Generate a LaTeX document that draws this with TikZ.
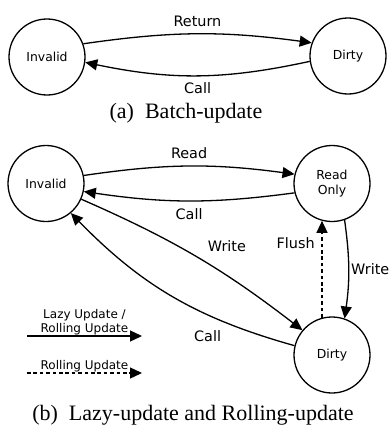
\documentclass[tikz,border=0pt]{standalone}
\usepackage{fontspec}
\setmainfont{Liberation Serif}
\setsansfont{DejaVu Sans}
\usetikzlibrary{arrows.meta}
\tikzset{
    statenode/.style={
        circle, draw, line width=0.65pt, minimum size=38pt, inner sep=0pt,
        align=center, font=\sffamily\fontsize{6.2}{7.5}\selectfont
    },
    ptr/.style={
        -{Triangle[length=6pt, width=5.5pt]}, line width=0.65pt
    },
    dashptr/.style={
        ptr, dash pattern=on 1.8pt off 1.4pt
    },
    labelptr/.style={
        font=\sffamily\fontsize{7.2}{8.6}\selectfont
    },
    legendtext/.style={
        font=\sffamily\fontsize{6}{7.2}\selectfont, align=center, inner sep=0pt
    },
    captiontext/.style={
        font=\fontsize{11}{13}\selectfont
    }
}

\begin{document}
\begin{tikzpicture}[x=0.5pt, y=0.5pt]
        \useasboundingbox (0,0) rectangle (389,-428);

        % ======================================
        % (a) BATCH-UPDATE
        % ======================================
        \node[statenode] (inv1) at (47,-57) {Invalid};
        \node[statenode] (dirty1) at (348,-56) {Dirty};

        \draw[ptr] (inv1.20) to[bend left=8] node[labelptr, above] {Return} (dirty1.160);
        \draw[ptr] (dirty1.188) to[bend left=12] node[labelptr, below] {Call} (inv1.-8);

        \node[captiontext] (capa) at (186,-113) {(a)\enspace Batch-update};

        % ======================================
        % (b) LAZY-UPDATE / ROLLING-UPDATE
        % ======================================
        \node[statenode] (inv2) at (46,-183.5) {Invalid};
        \node[statenode] (ro) at (332,-183.5) {Read\\Only};
        \node[statenode] (dirty2) at (332,-355) {Dirty};

        \draw[ptr] (inv2.12) to[bend left=8] node[labelptr, above] {Read} (ro.166);
        \draw[ptr] (ro.194) to[bend left=8] node[labelptr, below] {Call} (inv2.-12);
        \draw[ptr] (inv2.-24) to[bend left=7] node[labelptr, pos=0.52, above right] {Write} (dirty2.140);
        \draw[ptr] (dirty2.166) to[bend left=15] node[labelptr, pos=0.25, below left] {Call} (inv2.-50);
        \draw[ptr] (ro.-71) to[bend left=8] node[labelptr, right, inner sep=1pt] {Write} (dirty2.71);
        \draw[dashptr] (dirty2.105) -- node[labelptr, left, pos=0.77] {Flush} (ro.255); % chỉ Rolling Update

        % Chú thích nét vẽ
        \coordinate (lz1) at (27,-336);
        \coordinate (lz2) at (142,-336);
        \draw[ptr] (lz1) -- node[legendtext, above] {Lazy Update /\\Rolling Update} (lz2);

        \coordinate (rl1) at (27,-373);
        \coordinate (rl2) at (142,-373);
        \draw[dashptr] (rl1) -- node[legendtext, above] {Rolling Update} (rl2);

        \node[captiontext] (capb) at (193,-415) {(b)\enspace Lazy-update and Rolling-update};

    \end{tikzpicture}
\end{document}
